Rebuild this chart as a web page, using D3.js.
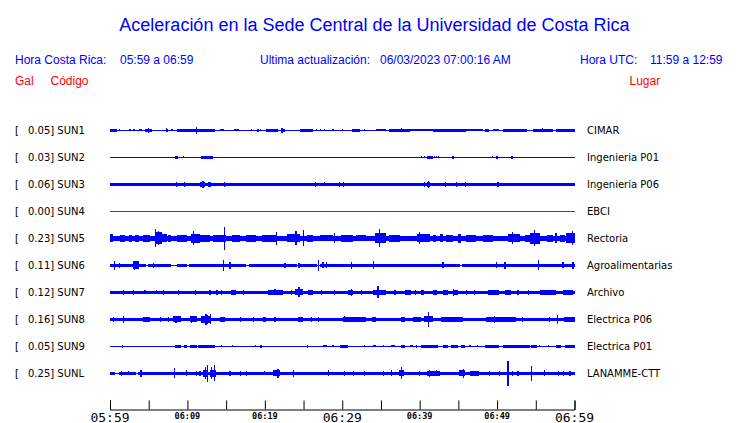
<!DOCTYPE html>
<html><head><meta charset="utf-8">
<script src="https://cdn.jsdelivr.net/npm/d3@7"></script>
<style>
html,body{margin:0;padding:0;background:#fff;}
svg{display:block;}
</style></head>
<body>
<svg id="chart" width="740" height="423"></svg>
<script>
// ---------- data ----------
const title = "Aceleración en la Sede Central de la Universidad de Costa Rica";
const headerCR = ["Hora Costa Rica:", "05:59 a 06:59"];
const headerUpd = ["Ultima actualización:", "06/03/2023 07:00:16 AM"];
const headerUTC = ["Hora UTC:", "11:59 a 12:59"];
const colHeads = ["Gal", "Código", "Lugar"];

const codes = ["SUN1","SUN2","SUN3","SUN4","SUN5","SUN6","SUN7","SUN8","SUN9","SUNL"];
const peaks = ["0.05","0.03","0.06","0.00","0.23","0.11","0.12","0.16","0.05","0.25"];
const places = ["CIMAR","Ingenieria P01","Ingenieria P06","EBCI","Rectoria","Agroalimentarias","Archivo","Electrica P06","Electrica P01","LANAMME-CTT"];
const baseAmp = [0.01,0.01,0.035,0.01,0.05,0.012,0.03,0.035,0.01,0.012];
const traceColor = ["blue","blue","blue","red","blue","blue","blue","blue","blue","blue"];

const tickMinutes = [0,5,10,15,20,25,30,35,40,45,50,55,60];
const labelMinutes = [0,10,20,30,40,50,60];
const tickLabels = ["05:59","06:09","06:19","06:29","06:39","06:49","06:59"];
const majorLabels = ["05:59","06:29","06:59"];

// bursts: [startMin, endMin, amplitude Gal]; spikes: [min, amplitude Gal]
const sun1Bursts = [[0,0.86,0.025],[2.5,2.67,0.02],[3.0,3.2,0.02],[3.8,4.1,0.02],[4.5,5.4,0.028],[7.2,7.5,0.025],[8.6,11.2,0.025],[11.2,13.5,0.025],[14.2,14.7,0.02],[16.0,16.6,0.02],[20.2,21.7,0.025],[22.2,22.6,0.025],[24.5,26.2,0.025],[31.2,32.3,0.028],[34.4,35.7,0.022],[36.1,38.7,0.028],[38.7,41.7,0.022],[41.7,46.0,0.025],[46.0,48.2,0.02],[48.4,49.0,0.025],[49.5,50.3,0.022],[50.8,53.8,0.025],[54.6,57.2,0.028],[57.6,60,0.025]];
const sun1Spikes = [[1.2,0.02],[5.0,0.045],[6.4,0.015],[7.3,0.04],[8.0,0.02],[9.9,0.035],[11.2,0.075],[18.3,0.02],[19.1,0.035],[19.4,0.02],[22.2,0.045],[26.7,0.02],[27.2,0.02],[27.7,0.02],[28.8,0.02],[30.0,0.02],[31.6,0.035],[32.9,0.02],[37.6,0.04],[52.3,0.035],[55.9,0.04]];

const sun2Bursts = [[8.4,8.8,0.03],[11.8,13.3,0.03],[40.9,41.7,0.03],[44.2,44.4,0.025],[49.9,50.1,0.025],[51.8,52.0,0.025]];
const sun2Spikes = [[9.5,0.02],[11.5,0.015],[40.2,0.02],[40.6,0.02],[41.9,0.02],[42.2,0.02],[42.4,0.02],[49.4,0.02]];

const sun3Bursts = [[11.6,12.3,0.045],[12.7,13.1,0.045],[40.9,41.3,0.045]];
const sun3Spikes = [[8.6,0.05],[9.6,0.05],[12.0,0.065],[12.9,0.055],[14.8,0.05],[26.5,0.045],[27.7,0.04],[29.6,0.05],[30.1,0.05],[40.6,0.045],[41.1,0.065],[43.3,0.045],[44.7,0.045],[45.9,0.045],[50.0,0.055],[50.2,0.05]];

const sun4Bursts = [];
const sun4Spikes = [];

const sun5Bursts = [[0,0.4,0.08],[1.3,1.9,0.07],[2.4,2.8,0.07],[3.2,3.7,0.07],[4.3,5.2,0.07],[5.8,6.7,0.12],[6.7,7.3,0.08],[7.5,7.9,0.07],[8.6,9.9,0.07],[10.5,11.6,0.09],[11.6,12.9,0.07],[13.3,15.0,0.07],[15.7,16.8,0.07],[17.6,18.9,0.07],[19.6,20.0,0.07],[20.0,21.5,0.07],[22.8,24.5,0.08],[25.4,26.2,0.07],[27.1,28.8,0.06],[29.9,31.4,0.07],[31.8,33.1,0.06],[34.2,35.7,0.1],[36.1,37.4,0.07],[39.6,41.3,0.08],[41.7,42.1,0.07],[42.6,43.0,0.08],[43.4,44.3,0.07],[45.0,45.4,0.09],[46.0,47.3,0.07],[48.2,49.5,0.07],[51.4,52.9,0.08],[53.6,54.2,0.07],[54.2,55.5,0.11],[56.4,57.2,0.07],[58.1,58.8,0.07],[58.9,60,0.1]];
const sun5Spikes = [[5.9,0.18],[6.3,0.14],[10.8,0.14],[14.8,0.23],[21.5,0.13],[24.0,0.14],[25.0,0.16],[29.0,0.1],[34.8,0.18],[40.0,0.12],[45.2,0.09],[52.0,0.12],[54.8,0.16],[57.6,0.1],[59.7,0.14]];

const sun6Bursts = [[0,4.7,0.03],[4.9,7.9,0.03],[8.7,10.0,0.03],[10.2,17.6,0.03],[18.0,24.1,0.03],[24.5,26.7,0.03],[27.1,45.2,0.03],[45.5,60,0.03],[3.0,3.7,0.08]];
const sun6Spikes = [[0.56,0.085],[1.2,0.05],[3.2,0.09],[5.6,0.045],[14.6,0.11],[15.5,0.07],[22.6,0.045],[24.4,0.045],[26.9,0.11],[27.5,0.06],[28.0,0.06],[31.2,0.07],[34.0,0.08],[43.0,0.06],[49.9,0.06],[51.0,0.07],[55.3,0.1],[58.5,0.06],[59.8,0.07]];

const sun7Bursts = [[15.6,16.3,0.05],[20.4,22.4,0.045],[23.9,24.9,0.06],[25.6,26.2,0.05],[30.8,31.4,0.055],[34.0,35.7,0.05],[38.1,38.9,0.05],[40.2,40.6,0.055],[41.7,42.3,0.05],[43.0,43.6,0.05],[44.3,45.0,0.05],[48.8,50.3,0.05],[51.0,51.8,0.055],[55.5,57.6,0.045],[58.5,59.8,0.045]];
const sun7Spikes = [[1.7,0.045],[3.0,0.045],[4.5,0.04],[6.0,0.04],[6.9,0.045],[8.8,0.05],[11.0,0.05],[12.9,0.05],[13.8,0.045],[14.4,0.045],[17.2,0.045],[21.3,0.06],[23.4,0.05],[24.4,0.1],[27.3,0.05],[29.0,0.045],[31.2,0.07],[32.5,0.05],[34.6,0.12],[36.8,0.045],[39.4,0.045],[44.4,0.065],[46.0,0.045],[47.1,0.045],[52.7,0.045],[54.0,0.045]];

const sun8Bursts = [[4.3,5.2,0.05],[8.2,9.2,0.06],[10.3,11.2,0.06],[11.8,13.1,0.065],[14.2,14.8,0.05],[19.8,20.2,0.05],[24.3,24.9,0.05],[30.1,33.1,0.05],[33.8,34.4,0.05],[37.6,38.1,0.05],[39.1,40.2,0.05],[40.6,41.7,0.06],[42.8,45.6,0.05],[48.6,52.5,0.055],[58.7,60,0.05]];
const sun8Spikes = [[0.4,0.05],[1.7,0.066],[6.5,0.05],[7.5,0.045],[8.5,0.07],[10.5,0.075],[12.4,0.115],[12.6,0.09],[13.0,0.1],[16.8,0.045],[18.5,0.045],[21.3,0.05],[26.0,0.05],[26.9,0.045],[30.3,0.06],[41.1,0.155],[49.7,0.07],[53.3,0.05],[56.8,0.045],[57.8,0.085]];

const sun9Bursts = [[8.4,9.2,0.027],[9.5,9.9,0.025],[10.3,11.2,0.027],[11.4,13.5,0.027],[27.5,28.0,0.02],[29.7,30.8,0.027],[34.0,34.4,0.02],[36.3,36.8,0.02],[37.6,38.1,0.025],[38.7,39.1,0.02],[40.2,42.4,0.03],[43.0,43.7,0.025],[44.1,45.0,0.027],[45.4,45.8,0.027],[48.4,50.3,0.027],[50.8,54.2,0.027],[54.4,55.1,0.027],[57.6,58.3,0.025],[58.8,60,0.027]];
const sun9Spikes = [[1.6,0.03],[12.5,0.035],[14.4,0.02],[15.8,0.02],[18.8,0.02],[19.5,0.025],[25.5,0.025],[28.8,0.02],[32.9,0.02],[35.3,0.02],[39.6,0.025],[41.1,0.035],[46.5,0.02],[47.5,0.02],[55.5,0.02],[56.6,0.02]];

const sunLBursts = [[0,0.6,0.025],[1.2,3.35,0.035],[3.65,60,0.033],[12.0,12.7,0.07],[12.9,13.7,0.07],[21.1,21.9,0.06],[37.3,38.0,0.06],[40.9,42.6,0.055],[45.1,45.8,0.06],[46.5,47.7,0.05]];
const sunLSpikes = [[1.5,0.045],[2.4,0.04],[4.0,0.07],[8.3,0.1],[9.9,0.06],[11.2,0.05],[11.6,0.05],[12.3,0.12],[12.6,0.17],[13.1,0.12],[13.5,0.16],[15.5,0.045],[16.8,0.045],[17.6,0.045],[19.9,0.04],[21.7,0.085],[23.7,0.07],[28.2,0.06],[30.3,0.045],[31.4,0.045],[32.9,0.045],[35.3,0.045],[36.3,0.06],[37.6,0.12],[40.0,0.05],[41.3,0.065],[42.2,0.06],[45.6,0.09],[49.0,0.05],[50.3,0.045],[51.4,0.25],[52.0,0.05],[52.7,0.045],[54.4,0.145],[56.1,0.06],[57.9,0.045],[58.6,0.045],[59.4,0.045]];

const allBursts = [sun1Bursts,sun2Bursts,sun3Bursts,sun4Bursts,sun5Bursts,sun6Bursts,sun7Bursts,sun8Bursts,sun9Bursts,sunLBursts];
const allSpikes = [sun1Spikes,sun2Spikes,sun3Spikes,sun4Spikes,sun5Spikes,sun6Spikes,sun7Spikes,sun8Spikes,sun9Spikes,sunLSpikes];

// ---------- drawing ----------
const svg = d3.select("#chart");
svg.append("rect").attr("width",740).attr("height",423).attr("fill","#fff");

const sans = "'Liberation Sans', Arial, Helvetica, sans-serif";
const dejavu = "'DejaVu Sans', sans-serif";
const mono = "'DejaVu Sans Mono', monospace";

svg.append("text").attr("x",374.5).attr("y",30.5).attr("text-anchor","middle")
  .attr("font-family",sans).attr("font-size",18).attr("fill","#0000ff").text(title);

const hdr = svg.append("g").attr("font-family",sans).attr("font-size",12).attr("fill","#0000ff");
hdr.append("text").attr("x",15).attr("y",64).text(headerCR[0]);
hdr.append("text").attr("x",120).attr("y",64).text(headerCR[1]);
hdr.append("text").attr("x",260).attr("y",64).text(headerUpd[0]);
hdr.append("text").attr("x",380).attr("y",64).text(headerUpd[1]);
hdr.append("text").attr("x",580).attr("y",64).text(headerUTC[0]);
hdr.append("text").attr("x",650).attr("y",64).text(headerUTC[1]);

const ch = svg.append("g").attr("font-family",sans).attr("font-size",12).attr("fill","#ff0000");
ch.append("text").attr("x",15).attr("y",85).text(colHeads[0]);
ch.append("text").attr("x",50.5).attr("y",85).text(colHeads[1]);
ch.append("text").attr("x",629.5).attr("y",85).text(colHeads[2]);

const x = d3.scaleLinear().domain([0,60]).range([110,574.5]);
const y = d3.scalePoint().domain(codes).range([130.3,373.3]);
const amp = d3.scaleLinear().domain([0,0.25]).range([0,12.5]);

const rows = svg.selectAll("g.row").data(codes).join("g").attr("class","row")
  .attr("transform", d => `translate(0,${y(d)})`);

rows.append("text").attr("x",15).attr("y",4).attr("font-family",dejavu).attr("font-size",10).attr("fill","#000").text("[");
rows.append("text").attr("x",28).attr("y",4).attr("font-family",dejavu).attr("font-size",10).attr("fill","#000")
  .attr("xml:space","preserve").style("white-space","pre")
  .text((d,i) => `${peaks[i]}] ${d}`);
rows.append("text").attr("x",587).attr("y",4).attr("font-family",dejavu).attr("font-size",10).attr("fill","#000")
  .text((d,i) => places[i]);

const traces = rows.append("g").attr("shape-rendering","crispEdges")
  .attr("fill",(d,i) => traceColor[i]);

traces.append("rect")
  .attr("x", x(0)).attr("width", x(60)-x(0))
  .attr("y",(d,i) => -Math.max(0.5, amp(baseAmp[i])))
  .attr("height",(d,i) => 2*Math.max(0.5, amp(baseAmp[i])));

traces.each(function(d,i){
  const g = d3.select(this);
  g.selectAll("rect.burst").data(allBursts[i]).join("rect").attr("class","burst")
    .attr("x", b => x(b[0])).attr("width", b => Math.max(1, x(b[1])-x(b[0])))
    .attr("y", b => -amp(b[2])).attr("height", b => 2*amp(b[2]));
  g.selectAll("rect.spike").data(allSpikes[i]).join("rect").attr("class","spike")
    .attr("x", s => x(s[0])-0.5).attr("width", 1.2)
    .attr("y", s => -amp(s[1])).attr("height", s => 2*amp(s[1]));
});

// time axis
const axis = d3.axisBottom(x).tickValues(tickMinutes).tickSize(-9).tickSizeOuter(-9)
  .tickFormat(() => "");
const ax = svg.append("g").attr("transform","translate(0,409.5)").call(axis);
ax.select(".domain").attr("stroke","#000");
ax.selectAll(".tick line").attr("stroke","#000");

const lbl = svg.append("g");
lbl.selectAll("text").data(labelMinutes).join("text")
  .attr("x", m => x(m)).attr("text-anchor","middle")
  .attr("y", (m,i) => majorLabels.includes(tickLabels[i]) ? 421.5 : 418.5)
  .attr("font-family", mono)
  .attr("font-size", (m,i) => majorLabels.includes(tickLabels[i]) ? 13 : 8.5)
  .attr("font-weight", (m,i) => majorLabels.includes(tickLabels[i]) ? "normal" : "bold")
  .attr("fill","#000")
  .text((m,i) => tickLabels[i]);
</script>
</body></html>
